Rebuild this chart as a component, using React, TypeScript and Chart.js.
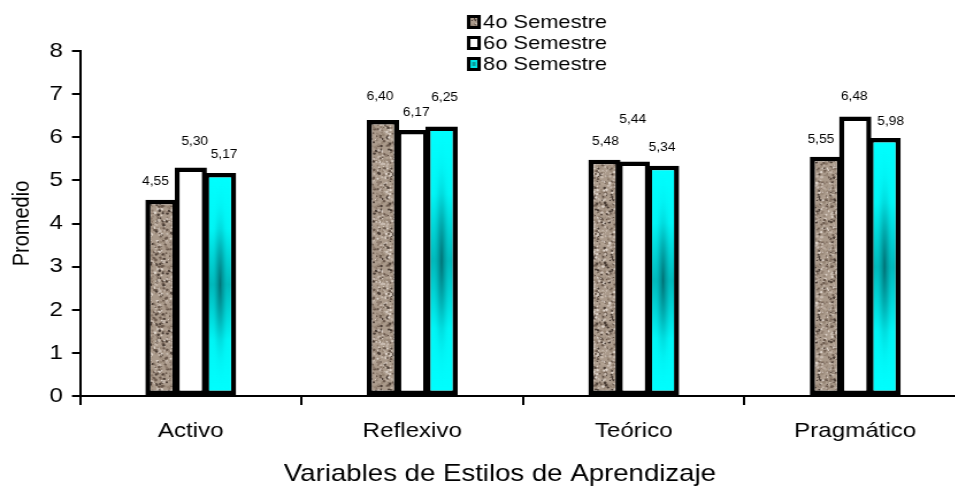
import React, { useEffect, useRef } from "react";
import { Chart, registerables } from "chart.js";

Chart.register(...registerables);

const categories = ["Activo", "Reflexivo", "Teórico", "Pragmático"];
const seriesNames = ["4o Semestre", "6o Semestre", "8o Semestre"];
const sem4 = [4.55, 6.4, 5.48, 5.55];
const sem6 = [5.3, 6.17, 5.44, 6.48];
const sem8 = [5.17, 6.25, 5.34, 5.98];
const yTicks = [0, 1, 2, 3, 4, 5, 6, 7, 8];
const yTitle = "Promedio";
const xTitle = "Variables de Estilos de Aprendizaje";

// label placement tweaks (px) relative to each bar top: [dx, lift], per series then category
const labelShift: [number, number][][] = [
  [[-6, 18], [-3, 23], [1, 18], [-5, 17]],
  [[4, 26], [4, 17], [-1, 42], [-1, 20]],
  [[4, 18], [3, 29], [-1, 18], [6, 16]],
];

const FONT = "'Liberation Sans', Arial, sans-serif";
const STRETCH = 1.15; // horizontal stretch of the whole picture
const OUTER_W = 955;
const INNER_W = Math.round(975 / STRETCH);

function makeGranite(): CanvasPattern | string {
  const c = document.createElement("canvas");
  c.width = 60;
  c.height = 60;
  const g = c.getContext("2d");
  if (!g) return "#a69687";
  g.fillStyle = "#aa9a8b";
  g.fillRect(0, 0, 60, 60);
  let s = 98765;
  const rnd = () => {
    s = (s * 1103515245 + 12345) & 0x7fffffff;
    return s / 0x7fffffff;
  };
  const cols = ["#6b5a4e", "#8c7a6c", "#c8bbb0", "#ddd3ca", "#4a3d35", "#b3a394", "#978676"];
  for (let i = 0; i < 900; i++) {
    const x = rnd() * 60;
    const y = rnd() * 60;
    const r = 0.5 + rnd() * 0.9;
    g.fillStyle = cols[Math.floor(rnd() * cols.length)];
    g.beginPath();
    g.arc(x, y, r, 0, Math.PI * 2);
    g.fill();
  }
  const p = g.createPattern(c, "repeat");
  return p || "#a69687";
}

function cyanFill(ctx: any) {
  const chart = ctx.chart;
  if (ctx.type !== "data" || !chart.chartArea) return "#00ffff";
  const ys = chart.scales.y;
  const top = ys.getPixelForValue(ctx.raw);
  const base = ys.getPixelForValue(0);
  const gr = chart.ctx.createLinearGradient(0, top, 0, base);
  gr.addColorStop(0, "#00ffff");
  gr.addColorStop(0.25, "#00f6f6");
  gr.addColorStop(0.5, "#00b4b6");
  gr.addColorStop(0.75, "#00f6f6");
  gr.addColorStop(1, "#00ffff");
  return gr;
}

export default function App() {
  const ref = useRef<HTMLCanvasElement | null>(null);

  useEffect(() => {
    if (!ref.current) return;
    const granite = makeGranite();
    const fills: any[] = [granite, "#ffffff", cyanFill];
    const BW = 4.5;

    const shadePlugin = {
      id: "cyanShade",
      afterDatasetDraw(chart: any, args: any) {
        if (args.index !== 2) return;
        const c = chart.ctx;
        const meta = chart.getDatasetMeta(2);
        meta.data.forEach((el: any) => {
          const { x, y, base, width } = el.getProps(["x", "y", "base", "width"], true);
          const l = x - width / 2 + BW;
          const r = x + width / 2 - BW;
          const t = y + BW;
          const b = base - BW;
          if (r <= l || b <= t) return;
          c.save();
          c.beginPath();
          c.rect(l, t, r - l, b - t);
          c.clip();
          c.translate((l + r) / 2, (t + b) / 2);
          c.scale((r - l) / 2, (b - t) / 2);
          const g = c.createRadialGradient(0, 0, 0, 0, 0, 1);
          g.addColorStop(0, "rgba(0,110,114,0.95)");
          g.addColorStop(0.35, "rgba(0,150,155,0.55)");
          g.addColorStop(0.75, "rgba(0,220,225,0.15)");
          g.addColorStop(1, "rgba(0,255,255,0)");
          c.fillStyle = g;
          c.fillRect(-1, -1, 2, 2);
          c.restore();
        });
      },
    };

    const labelPlugin = {
      id: "valueLabels",
      afterDatasetsDraw(chart: any) {
        const c = chart.ctx;
        c.save();
        c.font = `12px ${FONT}`;
        c.fillStyle = "#000";
        c.textAlign = "center";
        c.textBaseline = "middle";
        chart.data.datasets.forEach((ds: any, di: number) => {
          const meta = chart.getDatasetMeta(di);
          meta.data.forEach((el: any, i: number) => {
            const v = ds.data[i] as number;
            const [dx, lift] = labelShift[di][i];
            c.fillText(v.toFixed(2).replace(".", ","), el.x + dx / STRETCH, el.y - lift);
          });
        });
        c.restore();
      },
    };

    const legendPlugin = {
      id: "stackLegend",
      afterDraw(chart: any) {
        const c = chart.ctx;
        c.save();
        c.font = `19px ${FONT}`;
        c.textBaseline = "middle";
        c.textAlign = "left";
        const rowsY = [22, 43, 64];
        const mx = 467 / STRETCH;
        seriesNames.forEach((name, i) => {
          const y = rowsY[i];
          c.fillStyle = "#000";
          c.fillRect(mx, y - 7, 12, 14);
          if (i === 0) c.fillStyle = granite as any;
          else if (i === 1) c.fillStyle = "#fff";
          else c.fillStyle = "#00e8e8";
          c.fillRect(mx + 3, y - 4, 6, 8);
          if (i === 2) {
            c.fillStyle = "#0a9a9a";
            c.fillRect(mx + 4.5, y - 2, 3, 4);
          }
          c.fillStyle = "#000";
          c.fillText(name, mx + 14, y + 1);
        });
        c.restore();
      },
    };

    const xTitlePlugin = {
      id: "xTitle",
      afterDraw(chart: any) {
        const c = chart.ctx;
        const a = chart.chartArea;
        c.save();
        c.font = `24px ${FONT}`;
        c.fillStyle = "#000";
        c.textAlign = "center";
        c.textBaseline = "middle";
        c.fillText(xTitle, a.left + a.width * 0.474, 474);
        c.restore();
      },
    };

    const chart = new Chart(ref.current, {
      type: "bar",
      data: {
        labels: categories,
        datasets: [sem4, sem6, sem8].map((d, i) => ({
          label: seriesNames[i],
          data: d,
          backgroundColor: fills[i],
          borderColor: "#000",
          borderWidth: BW,
          borderSkipped: false,
          barPercentage: 1.1,
          categoryPercentage: 0.397,
        })),
      },
      options: {
        animation: false,
        responsive: true,
        maintainAspectRatio: false,
        layout: { padding: { top: 51, right: INNER_W - 966 / STRETCH, left: 0, bottom: 0 } },
        plugins: {
          legend: { display: false },
          tooltip: { enabled: false },
          title: { display: false },
        },
        scales: {
          x: {
            offset: true,
            grid: {
              offset: true,
              drawOnChartArea: false,
              drawTicks: true,
              tickLength: 9,
              color: "#000",
              lineWidth: 2,
            },
            border: { display: true, color: "#000", width: 2 },
            ticks: {
              color: "#000",
              font: { size: 21, family: FONT },
              padding: 14,
            },
            afterFit: (s: any) => {
              s.height = 95;
            },
          },
          y: {
            min: 0,
            max: 8,
            afterBuildTicks: (s: any) => {
              s.ticks = yTicks.map((v) => ({ value: v }));
            },
            grid: {
              drawOnChartArea: false,
              drawTicks: true,
              tickLength: 7,
              color: "#000",
              lineWidth: 2,
            },
            border: { display: true, color: "#000", width: 2 },
            ticks: {
              color: "#000",
              font: { size: 21, family: FONT },
              padding: 8,
            },
            title: {
              display: true,
              text: yTitle,
              color: "#000",
              font: { size: 20, family: FONT },
              padding: { top: 7, bottom: 0 },
            },
            afterFit: (s: any) => {
              s.width = 80 / STRETCH;
            },
          },
        },
      },
      plugins: [shadePlugin, labelPlugin, legendPlugin, xTitlePlugin],
    });
    return () => chart.destroy();
  }, []);

  return (
    <div
      style={{
        position: "fixed",
        left: 0,
        top: 0,
        width: OUTER_W,
        height: 491,
        overflow: "hidden",
        background: "#fff",
      }}
    >
      <div
        style={{
          position: "relative",
          width: INNER_W,
          height: 491,
          transform: `scaleX(${STRETCH})`,
          transformOrigin: "left top",
        }}
      >
        <canvas ref={ref} />
      </div>
    </div>
  );
}
